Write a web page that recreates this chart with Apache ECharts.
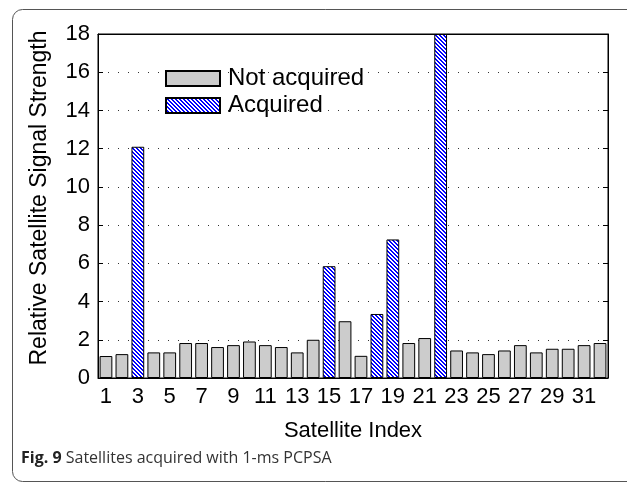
<!DOCTYPE html>
<html><head><meta charset="utf-8">
<script src="https://cdn.jsdelivr.net/npm/echarts@6/dist/echarts.min.js"></script>
<style>html,body{margin:0;padding:0;background:#fff}#c{width:627px;height:482px}</style>
</head><body><div id="c"></div>
<script>
const categories = ['1','2','3','4','5','6','7','8','9','10','11','12','13','14','15','16','17','18','19','20','21','22','23','24','25','26','27','28','29','30','31','32'];
const notAcquired = [1.15,1.25,null,1.34,1.34,1.83,1.83,1.62,1.72,1.91,1.72,1.62,1.34,2.0,null,2.97,1.16,null,null,1.83,2.09,null,1.44,1.34,1.25,1.44,1.72,1.34,1.53,1.53,1.72,1.83];
const acquired = [null,null,12.1,null,null,null,null,null,null,null,null,null,null,null,5.85,null,null,3.35,7.25,null,null,18.0,null,null,null,null,null,null,null,null,null,null];
const yTicks = {min:0, max:18, interval:2};
const yTitle = 'Relative Satellite Signal Strength';

const pc = document.createElement('canvas');
pc.width = 4; pc.height = 4;
const pctx = pc.getContext('2d');
const img = pctx.createImageData(4,4);
for (let y=0;y<4;y++) for (let x=0;x<4;x++) {
  const d = ((x - y) % 4 + 4) % 4;
  const blue = d < 2;
  const i = (y*4+x)*4;
  img.data[i] = blue?0:255; img.data[i+1] = blue?0:255; img.data[i+2] = 255; img.data[i+3] = 255;
}
pctx.putImageData(img,0,0);

const font = 'Liberation Sans, Arial, Helvetica, sans-serif';
const chart = echarts.init(document.getElementById('c'));
chart.setOption({
  animation:false,
  backgroundColor:'#fff',
  grid:{left:98,right:19,top:34,bottom:104,containLabel:false,show:true,borderColor:'#000',borderWidth:1,backgroundColor:'transparent'},
  legend:{
    orient:'vertical', left:165, top:65, padding:0, icon:'rect',
    itemWidth:54, itemHeight:15, itemGap:0,
    textStyle:{fontFamily:font, fontSize:24, color:'#000', lineHeight:27, padding:[0,0,0,3]},
    data:['Not acquired','Acquired']
  },
  xAxis:[{
    type:'category', data:categories, boundaryGap:true,
    name:'Satellite Index', nameLocation:'middle', nameGap:42,
    nameTextStyle:{fontFamily:font, fontSize:22, color:'#000'},
    axisLine:{onZero:false, lineStyle:{color:'#000',width:1}},
    axisTick:{inside:true, alignWithLabel:true, length:5, lineStyle:{color:'#000'}},
    axisLabel:{interval:1, fontFamily:font, fontSize:22, color:'#000', margin:8},
    splitLine:{show:false}
  },{
    type:'category', data:categories, position:'top', boundaryGap:true,
    axisLine:{onZero:false, lineStyle:{color:'#000',width:1}},
    axisTick:{inside:true, alignWithLabel:true, length:5, interval:1, lineStyle:{color:'#000'}},
    axisLabel:{show:false, interval:1}
  }],
  yAxis:[{
    type:'value', min:yTicks.min, max:yTicks.max, interval:yTicks.interval,
    axisLine:{show:true, onZero:false, lineStyle:{color:'#000',width:1}},
    axisTick:{show:true, inside:true, length:5, lineStyle:{color:'#000'}},
    axisLabel:{fontFamily:font, fontSize:22, color:'#000', margin:8},
    splitLine:{show:true, lineStyle:{color:'#333', width:1, type:[1,9]}}
  },{
    type:'value', position:'right', min:yTicks.min, max:yTicks.max, interval:yTicks.interval,
    axisLine:{show:true, onZero:false, lineStyle:{color:'#000',width:1}},
    axisTick:{show:true, inside:true, length:5, lineStyle:{color:'#000'}},
    axisLabel:{show:false}, splitLine:{show:false}
  }],
  series:[{
    name:'Not acquired', type:'bar', data:notAcquired, barWidth:'80%', barGap:'-100%',
    itemStyle:{color:'#cccccc', borderColor:'#000', borderWidth:1}
  },{
    name:'Acquired', type:'bar', data:acquired, barWidth:'80%', barGap:'-100%',
    itemStyle:{color:{image:pc, repeat:'repeat'}, borderColor:'#000', borderWidth:1}
  }],
  graphic:[{
    type:'rect', shape:{x:12.5, y:9.5, width:640, height:472, r:10},
    style:{fill:null, stroke:'#555', lineWidth:1}, silent:true
  },{
    type:'text', x:40, y:198, rotation:Math.PI/2,
    style:{text:yTitle, fontFamily:font, fontSize:23, fill:'#000', align:'center', verticalAlign:'middle'}
  },{
    type:'text', left:21, top:450,
    style:{
      text:'{b|Fig. 9} Satellites acquired with 1-ms PCPSA',
      rich:{b:{fontFamily:'Open Sans, sans-serif', fontWeight:'bold', fontSize:16, fill:'#222'}},
      fontFamily:'Open Sans, sans-serif', fontSize:16, fill:'#333'
    }
  }]
});
</script></body></html>
